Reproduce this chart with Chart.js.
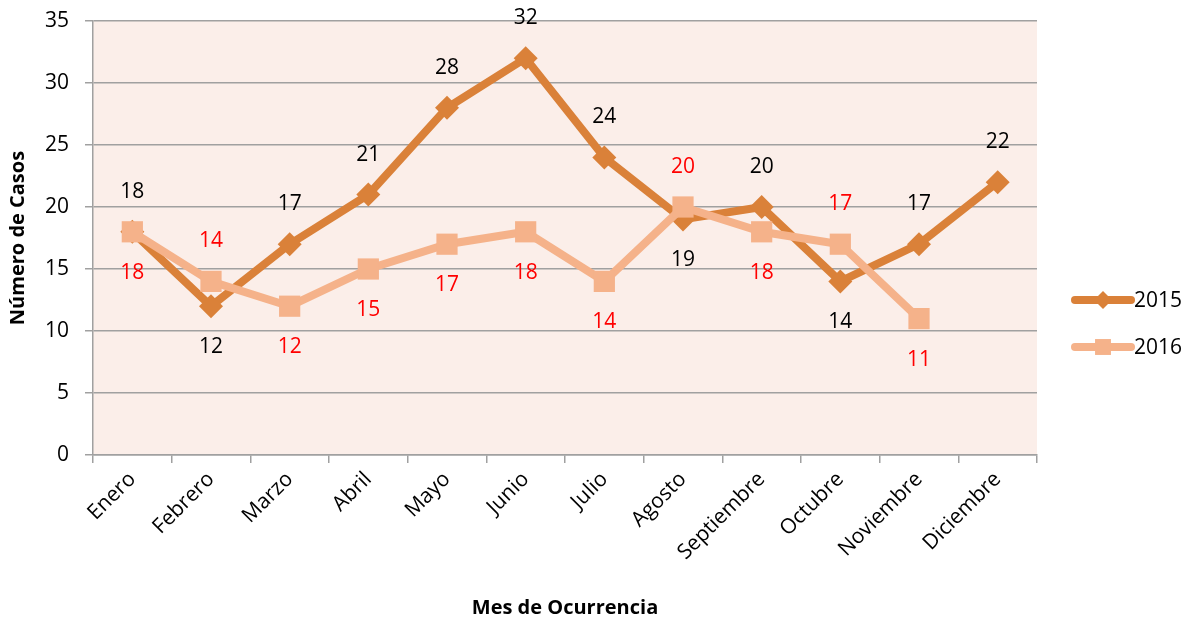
<!DOCTYPE html>
<html>
<head>
<meta charset="utf-8">
<script src="https://cdn.jsdelivr.net/npm/chart.js@4.4.3/dist/chart.umd.min.js"></script>
<style>
  html, body { margin: 0; padding: 0; background: #fff; }
  #wrap { width: 1198px; height: 620px; }
</style>
</head>
<body>
<div id="wrap"><canvas id="chart"></canvas></div>
<script>
// Chart data.
const months = ['Enero', 'Febrero', 'Marzo', 'Abril', 'Mayo', 'Junio', 'Julio',
  'Agosto', 'Septiembre', 'Octubre', 'Noviembre', 'Diciembre']
const casos2015 = [18, 12, 17, 21, 28, 32, 24, 19, 20, 14, 17, 22]
const casos2016 = [18, 14, 12, 15, 17, 18, 14, 20, 18, 17, 11, null]

// Label position per point: 'up' or 'down'.
const pos2015 = ['up', 'down', 'up', 'up', 'up', 'up', 'up', 'down', 'up', 'down', 'up', 'up']
const pos2016 = ['down', 'up', 'down', 'down', 'down', 'down', 'down', 'up', 'down', 'up', 'down', 'down']

const yTicks = [0, 5, 10, 15, 20, 25, 30, 35]

const FONT = '"Open Sans", Lato, sans-serif'
const FSIZE = 21
const C2015 = '#DA8139'
const C2016 = '#F5B28A'

// Pink plot background.
const plotBackground = {
  id: 'plotBackground',
  beforeDraw(chart) {
    const { ctx, chartArea: a } = chart
    ctx.save()
    ctx.fillStyle = '#FBEEE9'
    ctx.fillRect(a.left, a.top, a.right - a.left, a.bottom - a.top)
    ctx.restore()
  }
}

// Value labels above / below each point.
const valueLabels = {
  id: 'valueLabels',
  afterDatasetsDraw(chart) {
    const { ctx } = chart
    ctx.save()
    ctx.font = `${FSIZE}px ${FONT}`
    ctx.textAlign = 'center'
    ctx.textBaseline = 'middle'
    chart.data.datasets.forEach((ds, i) => {
      const meta = chart.getDatasetMeta(i)
      meta.data.forEach((pt, j) => {
        const v = ds.data[j]
        if (v == null) return
        const dy = ds.labelPos[j] === 'up' ? -40 : 41
        ctx.fillStyle = ds.labelColor
        ctx.fillText(String(v), pt.x, pt.y + dy)
      })
    })
    ctx.restore()
  }
}

// Legend on the right: thick line with marker in the middle (2015 first).
const sideLegend = {
  id: 'sideLegend',
  afterDraw(chart) {
    const { ctx } = chart
    const x0 = 1075, x1 = 1131
    const list = chart.data.datasets.slice().reverse()
    list.forEach((ds, i) => {
      const y = 300 + i * 47
      ctx.save()
      ctx.strokeStyle = ds.borderColor
      ctx.lineWidth = 8
      ctx.lineCap = 'round'
      ctx.beginPath()
      ctx.moveTo(x0, y)
      ctx.lineTo(x1, y)
      ctx.stroke()
      ctx.fillStyle = ds.borderColor
      ctx.strokeStyle = ds.borderColor
      Chart.helpers.drawPoint(ctx, {
        pointStyle: ds.pointStyle,
        radius: ds.pointRadius * 0.75,
        borderWidth: 0
      }, (x0 + x1) / 2, y)
      ctx.fillStyle = '#000'
      ctx.font = `${FSIZE}px ${FONT}`
      ctx.textBaseline = 'middle'
      ctx.fillText(ds.label, x1 + 3, y + 1)
      ctx.restore()
    })
  }
}

new Chart(document.getElementById('chart'), {
  type: 'line',
  data: {
    labels: months,
    datasets: [
      {
        label: '2016',
        data: casos2016,
        borderColor: C2016,
        backgroundColor: C2016,
        borderWidth: 8,
        pointStyle: 'rect',
        pointRadius: 15,
        pointHoverRadius: 15,
        pointBorderWidth: 0,
        labelColor: '#FF0000',
        labelPos: pos2016
      },
      {
        label: '2015',
        data: casos2015,
        borderColor: C2015,
        backgroundColor: C2015,
        borderWidth: 8,
        pointStyle: 'rectRot',
        pointRadius: 12,
        pointHoverRadius: 12,
        pointBorderWidth: 0,
        labelColor: '#000000',
        labelPos: pos2015
      }
    ]
  },
  options: {
    responsive: true,
    maintainAspectRatio: false,
    animation: false,
    events: [],
    layout: { padding: { left: 0, right: 161, top: 21, bottom: 0 } },
    plugins: {
      legend: { display: false },
      tooltip: { enabled: false }
    },
    scales: {
      x: {
        offset: true,
        grid: {
          offset: true,
          drawOnChartArea: false,
          drawTicks: true,
          tickLength: 8,
          color: '#A0A0A0',
          lineWidth: 1.5
        },
        border: { color: '#A0A0A0', width: 1.5 },
        ticks: {
          color: '#000',
          font: { family: FONT, size: FSIZE },
          minRotation: 45,
          maxRotation: 45,
          padding: 4
        },
        title: {
          display: true,
          text: 'Mes de Ocurrencia',
          color: '#000',
          font: { family: FONT, size: FSIZE - 1, weight: 'bold' },
          padding: { top: 0, bottom: 0 }
        },
        afterFit(scale) {
          scale.height = 165
          scale.paddingLeft = 0
          scale.paddingRight = 0
        }
      },
      y: {
        min: 0,
        max: 35,
        afterBuildTicks(scale) { scale.ticks = yTicks.map(v => ({ value: v })) },
        grid: {
          color: '#A0A0A0',
          lineWidth: 1.5,
          tickLength: 8
        },
        border: { color: '#A0A0A0', width: 1.5 },
        ticks: {
          color: '#000',
          font: { family: FONT, size: FSIZE },
          padding: 16
        },
        title: {
          display: true,
          text: 'Número de Casos',
          color: '#000',
          font: { family: FONT, size: FSIZE - 1, weight: 'bold' },
          padding: { top: 6, bottom: 0 }
        },
        afterFit(scale) {
          scale.width = 93
          scale.paddingTop = 0
          scale.paddingBottom = 0
        }
      }
    }
  },
  plugins: [plotBackground, valueLabels, sideLegend]
})
</script>
</body>
</html>
